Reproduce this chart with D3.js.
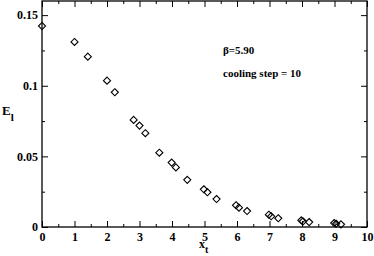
<!DOCTYPE html>
<html>
<head>
<meta charset="utf-8">
<script src="https://cdn.jsdelivr.net/npm/d3@7"></script>
<style>
  body { margin: 0; background: #fff; }
</style>
</head>
<body>
<div id="chart"></div>
<script>
// data
var xValues = [0, 1.0, 1.41, 2.0, 2.24, 2.82, 3.0, 3.18, 3.61, 3.99, 4.12, 4.47, 4.98, 5.09, 5.37, 5.97, 6.06, 6.31, 6.98, 7.05, 7.27, 7.98, 8.03, 8.22, 8.99, 9.05, 9.2];
var yValues = [0.1423, 0.131, 0.1206, 0.1036, 0.0954, 0.0758, 0.0718, 0.0664, 0.0526, 0.0456, 0.0422, 0.0334, 0.0267, 0.0246, 0.0198, 0.0154, 0.0137, 0.0113, 0.0087, 0.0076, 0.0062, 0.0047, 0.0040, 0.0035, 0.0028, 0.0023, 0.0019];
var xTicks = [0, 1, 2, 3, 4, 5, 6, 7, 8, 9, 10];
var yTicks = [0, 0.05, 0.1, 0.15];
var yTickLabels = ["0", "0.05", "0.1", "0.15"];
var notes = ["\u03b2=5.90", "cooling step = 10"];

var FONT = "'Liberation Serif', 'Times New Roman', Times, serif";

var svgWidth = 374;
var svgHeight = 256;
var margin = { top: 1, right: 7, bottom: 29, left: 42 };
var width = svgWidth - margin.left - margin.right;
var height = svgHeight - margin.top - margin.bottom;

var svg = d3.select("#chart")
    .append("svg")
    .attr("width", svgWidth)
    .attr("height", svgHeight)
    .attr("font-family", FONT)
    .attr("font-weight", "bold");

var chartGroup = svg.append("g")
    .attr("transform", `translate(${margin.left}, ${margin.top})`);

var xScale = d3.scaleLinear().domain([0, 10]).range([0, width]);
var yScale = d3.scaleLinear().domain([0, 0.16]).range([height, 0]);

var xMinor = d3.range(0.5, 10, 1);
var yMinor = [0.025, 0.075, 0.125];

// ticks point into the plot on all four sides
function styleAxis(g) {
    g.attr("font-family", FONT).attr("font-size", 12);
    g.select(".domain").remove();
    g.selectAll("line").attr("stroke", "#000").attr("stroke-width", 1);
    g.selectAll("text").attr("fill", "#000");
}

chartGroup.append("g")
    .attr("transform", `translate(0,${height})`)
    .call(d3.axisBottom(xScale).tickValues(xTicks).tickSizeInner(-6).tickSizeOuter(0).tickPadding(5).tickFormat(d3.format("d")))
    .call(styleAxis);
chartGroup.append("g")
    .attr("transform", `translate(0,${height})`)
    .call(d3.axisBottom(xScale).tickValues(xMinor).tickSize(-3).tickFormat(""))
    .call(styleAxis);
chartGroup.append("g")
    .call(d3.axisTop(xScale).tickValues(xTicks).tickSize(-6).tickFormat(""))
    .call(styleAxis);
chartGroup.append("g")
    .call(d3.axisTop(xScale).tickValues(xMinor).tickSize(-3).tickFormat(""))
    .call(styleAxis);

chartGroup.append("g")
    .call(d3.axisLeft(yScale).tickValues(yTicks).tickSizeInner(-6).tickSizeOuter(0).tickPadding(4)
        .tickFormat((d, i) => yTickLabels[i]))
    .call(styleAxis);
chartGroup.append("g")
    .call(d3.axisLeft(yScale).tickValues(yMinor).tickSize(-3).tickFormat(""))
    .call(styleAxis);
chartGroup.append("g")
    .attr("transform", `translate(${width},0)`)
    .call(d3.axisRight(yScale).tickValues(yTicks).tickSize(-6).tickFormat(""))
    .call(styleAxis);
chartGroup.append("g")
    .attr("transform", `translate(${width},0)`)
    .call(d3.axisRight(yScale).tickValues(yMinor).tickSize(-3).tickFormat(""))
    .call(styleAxis);

// frame
chartGroup.append("rect")
    .attr("x", 0).attr("y", 0)
    .attr("width", width).attr("height", height)
    .attr("fill", "none")
    .attr("stroke", "#000")
    .attr("stroke-width", 1.3);

// diamonds
var points = xValues.map((x, i) => ({ x: x, y: yValues[i] }));
var sym = d3.symbol().type(d3.symbolDiamond2).size(32);
chartGroup.selectAll("path.pt")
    .data(points)
    .enter()
    .append("path")
    .attr("class", "pt")
    .attr("d", sym)
    .attr("transform", d => `translate(${xScale(d.x)},${yScale(d.y)})`)
    .attr("fill", "none")
    .attr("stroke", "#000")
    .attr("stroke-width", 1.1);

// axis labels
var yLab = svg.append("text")
    .attr("x", 2)
    .attr("y", 115)
    .attr("font-size", 13);
yLab.append("tspan").text("E");
yLab.append("tspan").attr("font-size", 11).attr("dy", 6).text("l");

var xLab = svg.append("text")
    .attr("x", 199)
    .attr("y", 247.5)
    .attr("font-size", 12);
xLab.append("tspan").text("x");
xLab.append("tspan").attr("font-size", 10).attr("dy", 5).text("t");

// annotations
svg.selectAll("text.note")
    .data(notes)
    .enter()
    .append("text")
    .attr("class", "note")
    .attr("x", 223)
    .attr("y", (d, i) => 54 + i * 23)
    .attr("font-size", 11)
    .text(d => d);
</script>
</body>
</html>
